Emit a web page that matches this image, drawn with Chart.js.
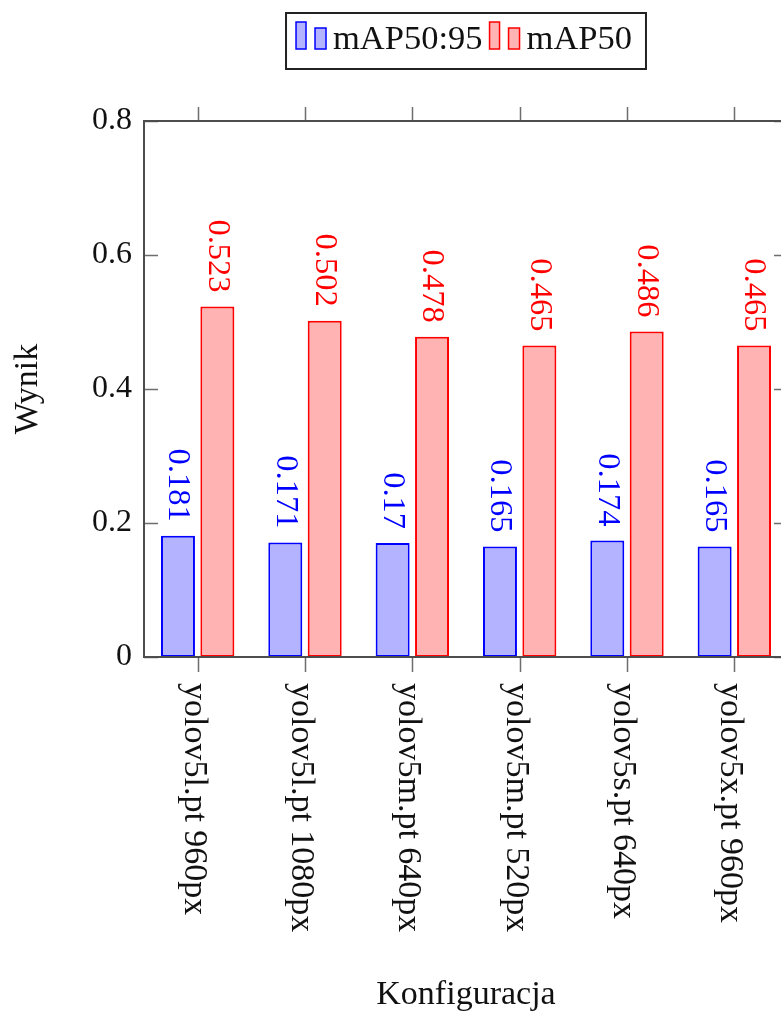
<!DOCTYPE html>
<html lang="pl">
<head>
  <meta charset="UTF-8">
  <title>mAP</title>
  <script src="https://cdn.jsdelivr.net/npm/chart.js"></script>
  <style>
    html, body {
      margin: 0;
      padding: 0;
      background: #fff;
      overflow: hidden;
    }
    /* plot runs a bit past the right edge, like the cropped original */
    .wrap {
      width: 800px;
      height: 1012px;
    }
  </style>
</head>
<body>
<div class="wrap"><canvas id="chart"></canvas></div>

<script>
  const categories = [
    'yolov5l.pt 960px',
    'yolov5l.pt 1080px',
    'yolov5m.pt 640px',
    'yolov5m.pt 520px',
    'yolov5s.pt 640px',
    'yolov5x.pt 960px'
  ];
  const map5095 = [0.181, 0.171, 0.17, 0.165, 0.174, 0.165];
  const map50 = [0.523, 0.502, 0.478, 0.465, 0.486, 0.465];
  const yTicks = [0, 0.2, 0.4, 0.6, 0.8];

  const SERIF = '"Liberation Serif", "DejaVu Serif", serif';
  const AXIS = '#4d4d4d';
  const TICK = '#6e6e6e';

  // frame, ticks, rotated labels and the legend box
  const pgfLook = {
    id: 'pgfLook',
    afterDatasetsDraw(chart) {
      const ctx = chart.ctx;
      const a = chart.chartArea;
      const x = chart.scales.x;
      const y = chart.scales.y;

      ctx.save();
      // value labels above bars
      ctx.font = '32.5px ' + SERIF;
      ctx.textAlign = 'right';
      ctx.textBaseline = 'middle';
      chart.data.datasets.forEach((ds, i) => {
        const meta = chart.getDatasetMeta(i);
        meta.data.forEach((bar, j) => {
          ctx.save();
          ctx.translate(bar.x, bar.y - 14);
          ctx.rotate(Math.PI / 2);
          ctx.fillStyle = ds.borderColor;
          ctx.fillText(String(ds.data[j]), 0, 0);
          ctx.restore();
        });
      });

      // ticks
      ctx.strokeStyle = TICK;
      ctx.lineWidth = 1.5;
      ctx.beginPath();
      categories.forEach((c, i) => {
        const px = Math.round(x.getPixelForValue(i)) + 0.5;
        ctx.moveTo(px, a.top - 14); ctx.lineTo(px, a.top);
        ctx.moveTo(px, a.bottom); ctx.lineTo(px, a.bottom + 15);
      });
      yTicks.forEach(v => {
        const py = Math.round(y.getPixelForValue(v)) + 0.5;
        ctx.moveTo(a.left, py); ctx.lineTo(a.left + 14, py);
        ctx.moveTo(a.right, py); ctx.lineTo(a.right - 14, py);
      });
      ctx.stroke();

      // axis box
      ctx.strokeStyle = AXIS;
      ctx.lineWidth = 2;
      ctx.strokeRect(a.left, a.top, a.right - a.left, a.bottom - a.top);

      // category labels, read top to bottom
      ctx.fillStyle = '#111';
      ctx.font = '34px ' + SERIF;
      ctx.textAlign = 'left';
      ctx.textBaseline = 'middle';
      categories.forEach((c, i) => {
        ctx.save();
        ctx.translate(x.getPixelForValue(i) - 4, a.bottom + 26);
        ctx.rotate(Math.PI / 2);
        ctx.fillText(c, 0, 0);
        ctx.restore();
      });

      // legend
      const items = chart.data.datasets.map(ds => ({
        text: ds.label, fill: ds.backgroundColor, line: ds.borderColor
      }));
      ctx.font = '34.5px ' + SERIF;
      ctx.textBaseline = 'alphabetic';
      const iconW = 30;
      let total = 10 + 14;
      items.forEach((it, i) => {
        it.w = ctx.measureText(it.text).width;
        total += iconW + 7 + it.w + (i < items.length - 1 ? 7 : 0);
      });
      const boxTop = 13, boxH = 56;
      let lx = (a.left + a.right) / 2 - total / 2;
      ctx.strokeStyle = '#222';
      ctx.lineWidth = 2;
      ctx.strokeRect(lx, boxTop, total, boxH);
      lx += 10;
      items.forEach(it => {
        ctx.fillStyle = it.fill;
        ctx.strokeStyle = it.line;
        ctx.lineWidth = 1.5;
        ctx.fillRect(lx, boxTop + 9, 10, 27);
        ctx.strokeRect(lx, boxTop + 9, 10, 27);
        ctx.fillRect(lx + 19, boxTop + 15, 11, 21);
        ctx.strokeRect(lx + 19, boxTop + 15, 11, 21);
        lx += iconW + 7;
        ctx.fillStyle = '#111';
        ctx.fillText(it.text, lx, boxTop + 36);
        lx += it.w + 7;
      });
      ctx.restore();
    }
  };

  new Chart(document.getElementById('chart'), {
    type: 'bar',
    data: {
      labels: categories,
      datasets: [
        {
          label: 'mAP50:95',
          data: map5095,
          backgroundColor: 'rgb(179,179,255)',
          borderColor: '#0000ff',
          borderWidth: 2,
          borderSkipped: false
        },
        {
          label: 'mAP50',
          data: map50,
          backgroundColor: 'rgb(255,179,179)',
          borderColor: '#ff0000',
          borderWidth: 2,
          borderSkipped: false
        }
      ]
    },
    options: {
      responsive: true,
      maintainAspectRatio: false,
      animation: false,
      categoryPercentage: 0.734,
      barPercentage: 0.863,
      layout: { padding: { top: 121, right: 12, left: 0, bottom: 0 } },
      plugins: {
        legend: { display: false },
        tooltip: { enabled: false }
      },
      scales: {
        x: {
          grid: { display: false },
          border: { display: false },
          ticks: { display: false },
          title: {
            display: true,
            text: 'Konfiguracja',
            color: '#111',
            font: { family: SERIF, size: 34, lineHeight: 1 },
            padding: 0
          },
          afterFit(scale) { scale.height = 355; }
        },
        y: {
          min: 0,
          max: 0.8,
          grid: { display: false, drawTicks: false },
          border: { display: false },
          ticks: {
            stepSize: 0.2,
            padding: 12,
            color: '#111',
            font: { family: SERIF, size: 32 },
            callback: v => String(Math.round(v * 10) / 10)
          },
          title: {
            display: true,
            text: 'Wynik',
            color: '#111',
            font: { family: SERIF, size: 34, lineHeight: 1 },
            padding: { top: 11, bottom: 0 }
          },
          afterFit(scale) { scale.width = 144; }
        }
      }
    },
    plugins: [pgfLook]
  });
</script>
</body>
</html>
